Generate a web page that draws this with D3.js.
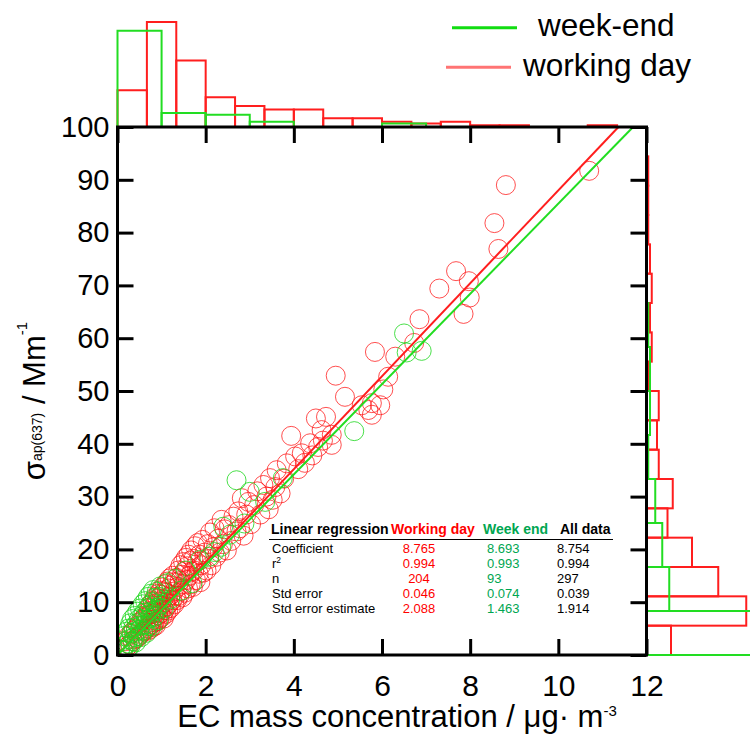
<!DOCTYPE html>
<html>
<head>
<meta charset="utf-8">
<script src="https://cdn.jsdelivr.net/npm/d3@7"></script>
<style>
body{margin:0;background:#fff;}
svg{display:block;font-family:"Liberation Sans",Arial,sans-serif;}
</style>
</head>
<body>
<svg id="chart" width="750" height="736"></svg>
<script>
////////////////////////////////////////////
// data
////////////////////////////////////////////

// [EC mass concentration, sigma_ap]
var workingDay = [
  [0.12,1.0],[0.18,2.6],[0.22,1.6],[0.25,3.6],[0.28,2.0],[0.31,4.0],[0.34,2.6],[0.36,4.6],[0.39,3.0],[0.42,5.0],
  [0.44,3.2],[0.47,5.6],[0.49,3.6],[0.51,6.2],[0.53,4.0],[0.56,6.6],[0.58,4.4],[0.6,7.0],[0.62,4.6],[0.64,7.4],[0.66,5.0],
  [0.68,7.4],[0.69,4.6],[0.7,8.2],[0.71,5.4],[0.72,9.0],[0.73,6.1],[0.74,4.9],[0.75,7.7],[0.76,9.6],[0.77,5.8],
  [0.78,8.4],[0.79,6.6],[0.8,10.2],[0.81,5.3],[0.82,7.9],[0.83,9.3],[0.84,6.2],[0.85,11.0],[0.86,7.3],[0.87,5.6],
  [0.88,9.8],[0.89,8.1],[0.9,6.4],[0.91,10.7],[0.92,7.5],[0.93,11.6],[0.94,8.6],[0.95,6.8],[0.96,10.1],[0.97,12.2],
  [0.98,7.9],[0.99,9.4],[1.0,11.4],[1.01,7.2],[1.02,12.8],[1.03,9.0],[1.04,10.6],[1.05,6.9],[1.06,12.0],[1.07,8.5],
  [1.08,13.4],[1.09,10.0],[1.1,7.8],[1.11,11.8],[1.12,9.2],[1.13,13.9],[1.14,10.9],[1.15,8.4],[1.16,12.6],[1.17,9.7],
  [1.18,14.5],[1.2,11.3],[1.21,8.9],[1.22,13.2],[1.24,10.4],[1.25,15.0],[1.27,12.0],[1.29,9.6],[1.3,13.8],[1.32,11.2],
  [1.34,14.6],[1.35,10.4],[1.37,12.9],[1.38,16.0],[1.4,11.2],[1.41,14.0],[1.43,17.0],[1.44,12.1],[1.46,15.2],[1.47,10.9],
  [1.49,17.6],[1.5,13.4],[1.52,15.9],[1.53,11.8],[1.55,18.4],[1.56,14.2],[1.58,16.8],[1.6,12.6],[1.61,19.0],[1.63,15.0],
  [1.64,17.8],[1.66,13.4],[1.67,19.8],[1.69,15.8],[1.71,12.9],[1.72,18.2],[1.74,16.0],[1.76,20.6],[1.78,14.2],[1.8,17.6],
  [1.82,21.2],[1.84,15.4],[1.86,19.0],[1.88,13.8],[1.9,17.0],[1.93,21.8],[1.95,15.6],[1.98,19.4],
  [2.02,16.0],[2.05,21.0],[2.08,18.2],[2.1,23.2],[2.13,17.0],[2.17,20.4],[2.2,24.0],[2.24,18.6],[2.28,22.0],[2.32,19.4],
  [2.36,25.6],[2.39,21.0],[2.43,23.8],[2.48,19.8],[2.53,24.6],[2.58,21.6],[2.63,26.2],
  [2.7,23.4],[2.74,27.2],[2.78,24.0],[2.82,29.7],[2.86,22.6],[2.92,26.6],[2.97,29.0],[3.03,24.8],[3.1,28.4],[3.17,31.0],
  [3.24,26.6],[3.31,32.2],[3.38,30.0],[3.43,27.6],[3.46,33.5],[3.52,29.4],[3.58,31.8],[3.61,35.0],[3.7,30.6],[3.78,33.4],
  [3.84,36.3],[3.94,41.5],[4.03,37.6],[4.1,35.2],[4.18,38.2],[4.25,36.4],[4.37,40.1],[4.42,37.8],[4.5,44.8],[4.55,39.4],
  [4.63,42.6],[4.66,40.6],[4.73,45.1],[4.86,41.7],[4.86,39.8],[4.95,52.9],[5.16,48.9],
  [5.54,47.3],[5.69,46.4],[5.77,47.7],[5.77,45.5],[5.84,57.4],[5.96,47.3],
  [6.03,50.3],[6.14,52.7],[6.30,56.5],[6.73,59.1],[6.85,63.6],[7.30,69.4],
  [7.68,72.7],[7.85,64.6],[7.97,70.8],[7.99,67.7],[8.55,81.8],[8.64,76.9],[8.81,89.0],[10.70,91.7]
];

var weekEnd = [
  [0.06,1.0],[0.1,2.6],[0.13,0.8],[0.15,3.6],[0.17,1.8],[0.2,4.4],[0.22,2.2],[0.24,1.2],[0.25,5.0],[0.27,3.0],
  [0.29,6.0],[0.3,1.8],[0.32,4.2],[0.33,6.8],[0.35,2.6],[0.36,5.2],[0.38,3.4],[0.39,7.4],[0.41,4.4],[0.42,2.4],
  [0.44,6.0],[0.45,8.2],[0.47,3.6],[0.48,6.8],[0.5,4.8],[0.51,8.8],[0.53,5.6],[0.54,3.4],[0.56,7.4],[0.57,9.6],
  [0.59,4.6],[0.6,8.0],[0.62,5.8],[0.63,10.2],[0.65,6.6],[0.66,4.2],[0.68,8.8],[0.69,11.0],[0.71,5.6],[0.72,9.4],
  [0.74,7.0],[0.75,11.6],[0.77,8.0],[0.78,5.4],[0.8,10.0],[0.81,12.3],[0.83,7.2],[0.85,10.8],[0.87,8.4],[0.89,12.0],
  [0.91,9.0],[0.93,6.6],[0.96,11.0],[0.97,13.0],[0.99,9.6],
  [1.05,8.8],[1.12,13.6],[1.2,10.6],[1.3,14.4],[1.45,12.2],[1.55,16.0],[1.7,13.6],[1.88,18.0],
  [2.08,18.6],[2.2,19.5],[2.35,20.5],[2.4,24.3],[2.55,22.8],[2.7,33.1],[2.88,24.9],
  [3.0,30.9],[3.35,29.0],[3.75,33.5],[5.37,42.4],[6.50,60.9],[6.56,57.3],[6.90,57.6]
];

// fitted lines as drawn (slope through origin)
var slopeWork = 8.8, slopeWeek = 8.55;

// marginal histogram counts
var topWork  = [21,60,38,17,12,10,10,5,5,3,2,3,1,1,0,0,1,0];   // 18 bins over 0..12
var topWeek  = [55,8,7,3,0,0,2,0,0,0,0,0];                      // 12 bins over 0..12
var rightWork = [14,57,41,26,12,15,7,6,7,1,3,2,3,2,1,1,1,0];    // 18 bins over 0..100
var rightWeek = [60,13,9,5,1,2,2,1,0,0,0,0];                    // 12 bins over 0..100

var xTicks = [0,2,4,6,8,10,12];
var yTicks = [0,10,20,30,40,50,60,70,80,90,100];

var tableHead = ["Linear regression","Working day","Week end","All data"];
var tableRows = ["Coefficient","r","n","Std error","Std error estimate"];
var colWork = ["8.765","0.994","204","0.046","2.088"];
var colWeek = ["8.693","0.993","93","0.074","1.463"];
var colAll  = ["8.754","0.994","297","0.039","1.914"];

////////////////////////////////////////////
// svg chart
////////////////////////////////////////////

var svg = d3.select("svg#chart");
var plot = {left: 117.5, right: 646.5, top: 127, bottom: 655};

var x = d3.scaleLinear().domain([0,12]).range([plot.left, plot.right]);
var y = d3.scaleLinear().domain([0,100]).range([plot.bottom, plot.top]);
var hs = d3.scaleLinear().domain([0,60]).range([0,105]);

var red = "#ff1e1e", green = "#22dd22";

svg.append("clipPath").attr("id","plotclip")
  .append("rect")
  .attr("x",plot.left).attr("y",plot.top)
  .attr("width",plot.right-plot.left).attr("height",plot.bottom-plot.top);

//top histograms
function topHist(counts, nb, color){
  var bw = 12/nb;
  svg.append("g")
    .selectAll("rect")
    .data(counts.map((c,i) => ({c:c,i:i})).filter(d => d.c > 0))
    .enter().append("rect")
    .attr("x", d => x(d.i*bw))
    .attr("width", d => x((d.i+1)*bw) - x(d.i*bw))
    .attr("y", d => plot.top - hs(d.c))
    .attr("height", d => hs(d.c))
    .attr("fill","none")
    .attr("stroke",color)
    .attr("stroke-width",2);
}
//right histograms
function rightHist(counts, nb, color){
  var bw = 100/nb;
  svg.append("g")
    .selectAll("rect")
    .data(counts.map((c,i) => ({c:c,i:i})).filter(d => d.c > 0))
    .enter().append("rect")
    .attr("x", plot.right)
    .attr("width", d => hs(d.c))
    .attr("y", d => y((d.i+1)*bw))
    .attr("height", d => y(d.i*bw) - y((d.i+1)*bw))
    .attr("fill","none")
    .attr("stroke",color)
    .attr("stroke-width",2);
}
topHist(topWork, 18, red);
topHist(topWeek, 12, green);
rightHist(rightWork, 18, red);
rightHist(rightWeek, 12, green);

//scatter
var pts = svg.append("g").attr("clip-path","url(#plotclip)");
pts.selectAll("circle.work")
  .data(workingDay)
  .enter().append("circle")
  .attr("class","work")
  .attr("cx", d => x(d[0]))
  .attr("cy", d => y(d[1]))
  .attr("r", 9.5)
  .attr("fill","none")
  .attr("stroke","rgba(255,20,20,0.75)")
  .attr("stroke-width",1);
pts.selectAll("circle.week")
  .data(weekEnd)
  .enter().append("circle")
  .attr("class","week")
  .attr("cx", d => x(d[0]))
  .attr("cy", d => y(d[1]))
  .attr("r", 9.5)
  .attr("fill","none")
  .attr("stroke","rgba(30,215,30,0.8)")
  .attr("stroke-width",1);

//regression lines
[[slopeWork, red],[slopeWeek, green]].forEach(function(s){
  svg.append("line")
    .attr("x1", x(0)).attr("y1", y(0))
    .attr("x2", x(100/s[0])).attr("y2", y(100))
    .attr("stroke", s[1])
    .attr("stroke-width", 2);
});

//axes
function styleAxis(g, fs){
  g.select(".domain").remove();
  g.attr("font-size", fs).attr("font-family", "'Liberation Sans', Arial, sans-serif");
  g.selectAll("line").attr("stroke","#000").attr("stroke-width",3);
  g.selectAll("text").attr("fill","#000");
}
var gx = svg.append("g")
  .attr("transform",`translate(0,${plot.bottom})`)
  .call(d3.axisBottom(x).tickValues(xTicks).tickSizeInner(-16).tickSizeOuter(0).tickPadding(20));
styleAxis(gx, 30);
var gy = svg.append("g")
  .attr("transform",`translate(${plot.left},0)`)
  .call(d3.axisLeft(y).tickValues(yTicks).tickSizeInner(-16).tickSizeOuter(0).tickPadding(8));
styleAxis(gy, 29);
var gt = svg.append("g")
  .attr("transform",`translate(0,${plot.top})`)
  .call(d3.axisTop(x).tickValues(xTicks).tickSizeInner(-16).tickSizeOuter(0).tickFormat(""));
styleAxis(gt, 10);
var gr = svg.append("g")
  .attr("transform",`translate(${plot.right},0)`)
  .call(d3.axisRight(y).tickValues(yTicks).tickSizeInner(-16).tickSizeOuter(0).tickFormat(""));
styleAxis(gr, 10);

svg.append("rect")
  .attr("x",plot.left).attr("y",plot.top)
  .attr("width",plot.right-plot.left).attr("height",plot.bottom-plot.top)
  .attr("fill","none").attr("stroke","#000").attr("stroke-width",3);

//axis titles
var xl = svg.append("text")
  .attr("x",397).attr("y",727)
  .attr("text-anchor","middle")
  .attr("font-size",31);
xl.append("tspan").text("EC mass concentration / μg· m");
xl.append("tspan").attr("font-size",15).attr("dy",-11).text("-3");

var yl = svg.append("text")
  .attr("transform","translate(45,401) rotate(-90)")
  .attr("text-anchor","middle")
  .attr("font-size",31);
yl.append("tspan").text("σ");
yl.append("tspan").attr("font-size",14).attr("dy",-3).text("ap(637)");
yl.append("tspan").attr("dy",3).text(" / Mm");
yl.append("tspan").attr("font-size",15).attr("dy",-18).text("-1");

//legend
var legend = [["week-end","#11dd11",452,517,27.7,538,36],["working day","#ff7474",446,511,67.3,523,76]];
legend.forEach(function(l){
  svg.append("line")
    .attr("x1",l[2]).attr("x2",l[3]).attr("y1",l[4]).attr("y2",l[4])
    .attr("stroke",l[1]).attr("stroke-width",3);
  svg.append("text")
    .attr("x",l[5]).attr("y",l[6])
    .attr("font-size",31.5)
    .text(l[0]);
});

//regression table
var headX = [271, 391, 483, 560];
var headCol = ["#000","#ff0000","#00a651","#000"];
svg.append("g")
  .selectAll("text")
  .data(tableHead)
  .enter().append("text")
  .attr("x",(d,i) => headX[i])
  .attr("y",534)
  .attr("font-size",14)
  .attr("font-weight","bold")
  .attr("fill",(d,i) => headCol[i])
  .text(d => d);
svg.append("line")
  .attr("x1",269).attr("x2",613).attr("y1",539.5).attr("y2",539.5)
  .attr("stroke","#000").attr("stroke-width",1.2);

var rowY = i => 552.5 + i*15.1;
var lab = svg.append("g").attr("font-size",13);
tableRows.forEach(function(r,i){
  var t = lab.append("text").attr("x",272).attr("y",rowY(i)).text(r);
  if(r === "r") t.append("tspan").attr("font-size",8.5).attr("dy",-5).text("2");
});
lab.selectAll("text.cw").data(colWork).enter().append("text")
  .attr("class","cw").attr("x",419).attr("y",(d,i) => rowY(i))
  .attr("text-anchor","middle").attr("fill","#ff0000").text(d => d);
lab.selectAll("text.ck").data(colWeek).enter().append("text")
  .attr("class","ck").attr("x",487).attr("y",(d,i) => rowY(i))
  .attr("fill","#00a651").text(d => d);
lab.selectAll("text.ca").data(colAll).enter().append("text")
  .attr("class","ca").attr("x",557).attr("y",(d,i) => rowY(i))
  .attr("fill","#000").text(d => d);
</script>
</body>
</html>
